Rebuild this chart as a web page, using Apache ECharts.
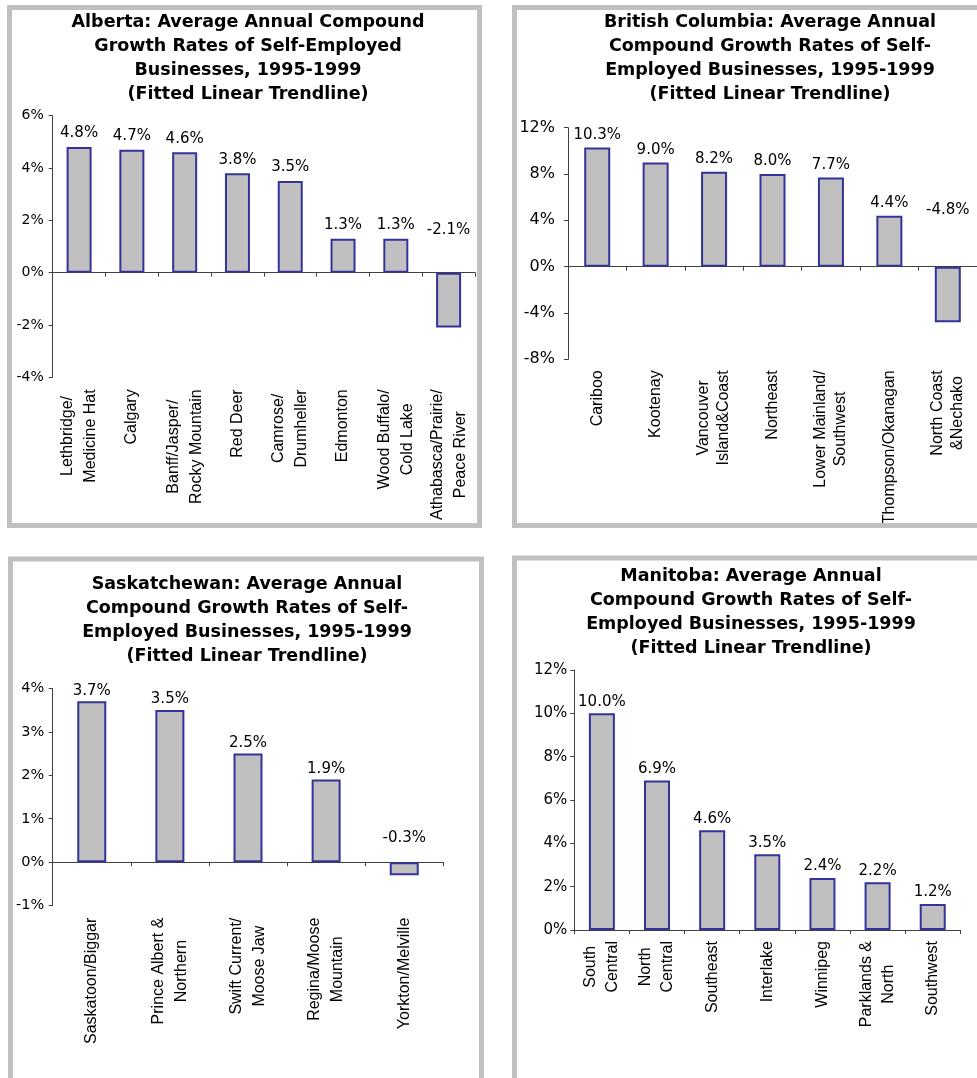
<!DOCTYPE html>
<html>
<head>
<meta charset="utf-8">
<title>Average Annual Compound Growth Rates of Self-Employed Businesses, 1995-1999</title>
<script src="https://cdn.jsdelivr.net/npm/echarts@6/dist/echarts.min.js"></script>
<style>
  html, body { margin: 0; padding: 0; background: #ffffff; overflow: hidden; }
  #chart { width: 977px; height: 1078px; }
</style>
</head>
<body>
<div id="chart"></div>
<script>
// ---- Data: growth rates (%) by economic region ----
const albertaRegions = ['Lethbridge/\nMedicine Hat', 'Calgary', 'Banff/Jasper/\nRocky Mountain', 'Red Deer',
  'Camrose/\nDrumheller', 'Edmonton', 'Wood Buffalo/\nCold Lake', 'Athabasca/Prairie/\nPeace River'];
const albertaGrowth = [4.8, 4.7, 4.6, 3.8, 3.5, 1.3, 1.3, -2.1];
const albertaTicks = [-4, 6, 2];

const bcRegions = ['Cariboo', 'Kootenay', 'Vancouver\nIsland&Coast', 'Northeast',
  'Lower Mainland/\nSouthwest', 'Thompson/Okanagan', 'North Coast\n&Nechako'];
const bcGrowth = [10.3, 9.0, 8.2, 8.0, 7.7, 4.4, -4.8];
const bcTicks = [-8, 12, 4];

const saskRegions = ['Saskatoon/Biggar', 'Prince Albert &\nNorthern', 'Swift Current/\nMoose Jaw',
  'Regina/Moose\nMountain', 'Yorkton/Melville'];
const saskGrowth = [3.7, 3.5, 2.5, 1.9, -0.3];
const saskTicks = [-1, 4, 1];

const mbRegions = ['South\nCentral', 'North\nCentral', 'Southeast', 'Interlake', 'Winnipeg',
  'Parklands &\nNorth', 'Southwest'];
const mbGrowth = [10.0, 6.9, 4.6, 3.5, 2.4, 2.2, 1.2];
const mbTicks = [0, 12, 2];

const titles = {
  ab: 'Alberta: Average Annual Compound\nGrowth Rates of Self-Employed\nBusinesses, 1995-1999\n(Fitted Linear Trendline)',
  bc: 'British Columbia: Average Annual\nCompound Growth Rates of Self-\nEmployed Businesses, 1995-1999\n(Fitted Linear Trendline)',
  sk: 'Saskatchewan: Average Annual\nCompound Growth Rates of Self-\nEmployed Businesses, 1995-1999\n(Fitted Linear Trendline)',
  mb: 'Manitoba: Average Annual\nCompound Growth Rates of Self-\nEmployed Businesses, 1995-1999\n(Fitted Linear Trendline)'
};

// ---- Layout of the four framed panels ----
const panels = [
  { key: 'ab', regions: albertaRegions, values: albertaGrowth, ticks: albertaTicks,
    frame: [9.5, 7.5, 470, 518], titleX: 248, titleY: 10,
    grid: { left: 52.7, top: 115.7, width: 422.3, height: 261.6 },
    barWidth: 25, tickFont: 14, tickMargin: 9, labelDist: 6, negDist: 35, catLine: 23, catMargin: 12 },
  { key: 'bc', regions: bcRegions, values: bcGrowth, ticks: bcTicks,
    frame: [514.5, 7.5, 520, 518], titleX: 770, titleY: 10,
    grid: { left: 568, top: 127.7, width: 417, height: 231.6 },
    barWidth: 26, tickFont: 16, tickMargin: 13, labelDist: 5, negDist: 49, catLine: 20, catMargin: 11 },
  { key: 'sk', regions: saskRegions, values: saskGrowth, ticks: saskTicks,
    frame: [10.5, 559, 471, 522], titleX: 247, titleY: 572.6,
    grid: { left: 52.7, top: 688.3, width: 390.6, height: 217.4 },
    barWidth: 29, tickFont: 14.5, tickMargin: 8.5, labelDist: 3, negDist: 17, catLine: 23, catMargin: 12 },
  { key: 'mb', regions: mbRegions, values: mbGrowth, ticks: mbTicks,
    frame: [514.5, 558, 520, 523], titleX: 751, titleY: 564,
    grid: { left: 574.3, top: 670, width: 386, height: 260 },
    barWidth: 26, tickFont: 15, tickMargin: 7, labelDist: 4, negDist: 17, catLine: 22, catMargin: 11 }
];

const AXIS_COLOR = '#404040';
const option = {
  animation: false,
  backgroundColor: '#ffffff',
  title: [], grid: [], xAxis: [], yAxis: [], series: [], graphic: []
};

panels.forEach((p, i) => {
  option.title.push({
    text: titles[p.key],
    left: p.titleX, top: p.titleY, textAlign: 'center', padding: 0,
    textStyle: { fontFamily: 'DejaVu Sans', fontWeight: 'bold', fontSize: 17.5, lineHeight: 24, color: '#000' }
  });

  option.grid.push(Object.assign({ containLabel: false }, p.grid));

  // Axis carrying the baseline at zero, with a tick at every category boundary
  option.xAxis.push({
    type: 'category', gridIndex: i, data: p.regions,
    axisLine: { onZero: true, lineStyle: { color: AXIS_COLOR, width: 1 } },
    axisTick: { show: true, interval: 0, length: 4, lineStyle: { color: AXIS_COLOR } },
    axisLabel: { show: false, interval: 0 }, splitLine: { show: false }
  });
  // Region names hang below the plot area
  option.xAxis.push({
    type: 'category', gridIndex: i, data: p.regions, position: 'bottom',
    axisLine: { show: false, onZero: false }, axisTick: { show: false }, splitLine: { show: false },
    axisLabel: {
      interval: 0, rotate: 90, margin: p.catMargin, color: '#000',
      fontFamily: 'Liberation Sans', fontSize: 16, lineHeight: p.catLine,
      formatter: v => v.split('\n').map(s => '{c|' + s + '}').join('\n'),
      rich: { c: { align: 'center', fontFamily: 'Liberation Sans', fontSize: 16, lineHeight: p.catLine, color: '#000' } }
    }
  });

  option.yAxis.push({
    type: 'value', gridIndex: i,
    min: p.ticks[0], max: p.ticks[1], interval: p.ticks[2],
    axisLine: { show: true, lineStyle: { color: AXIS_COLOR, width: 1 } },
    axisTick: { show: true, length: 4, lineStyle: { color: AXIS_COLOR } },
    splitLine: { show: false },
    axisLabel: { margin: p.tickMargin, color: '#000', fontFamily: 'DejaVu Sans', fontSize: p.tickFont,
      formatter: v => v + '%' }
  });

  option.series.push({
    type: 'bar', xAxisIndex: i * 2, yAxisIndex: i,
    barWidth: p.barWidth,
    itemStyle: { color: '#c0c0c0', borderColor: '#333399', borderWidth: 2 },
    label: {
      show: true, position: 'top', distance: p.labelDist, color: '#000',
      fontFamily: 'DejaVu Sans', fontSize: 15,
      formatter: d => d.value.toFixed(1) + '%'
    },
    data: p.values.map(v => v < 0 ? { value: v, label: { distance: p.negDist } } : v)
  });

  option.graphic.push({
    type: 'rect', z: 100, silent: true,
    shape: { x: p.frame[0], y: p.frame[1], width: p.frame[2], height: p.frame[3] },
    style: { fill: 'none', stroke: '#c0c0c0', lineWidth: 5 }
  });
});

const chart = echarts.init(document.getElementById('chart'), null, { renderer: 'canvas' });
chart.setOption(option);
</script>
</body>
</html>
